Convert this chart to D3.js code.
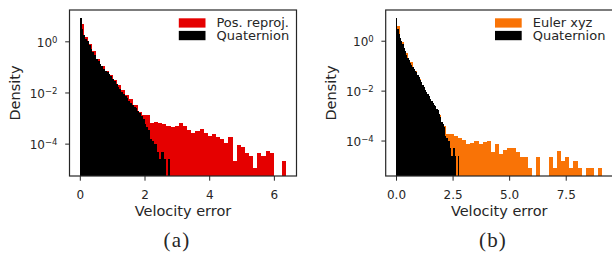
<!DOCTYPE html>
<html>
<head>
<meta charset="utf-8">
<script src="https://cdn.jsdelivr.net/npm/d3@7"></script>
<style>
  body { margin: 0; background: #fff; }
  text { font-family: "DejaVu Sans", sans-serif; fill: #262626; }
</style>
</head>
<body>
<svg id="chart" width="612" height="253"></svg>
<script>
// 50 bins per histogram, from 0 to the max of each sample
var nBins = 50;
var quatMax = 2.78, posMax = 6.38, eulerMax = 9.12;

// densities (0 = empty bin)
var quaternion = [8.5, 2.9, 1.8, 1.23, 1.0, 0.74, 0.51, 0.38, 0.28, 0.204,
  0.166, 0.132, 0.105, 0.085, 0.071, 0.062, 0.055, 0.043, 0.034, 0.0275,
  0.0224, 0.0166, 0.0138, 0.0105, 0.0091, 0.0076, 0.0062, 0.0047, 0.0039, 0.0031,
  0.00275, 0.0024, 0.0019, 0.0016, 0.00117, 0.00089, 0.00056, 0.00045, 0.00035, 0.000148,
  0.000123, 0.000098, 0.000098, 0.000049, 0.0000245, 0.000049, 0.000049, 0.0000245, 0, 0.0000245];

var posReproj = [4.9, 1.48, 0.76, 0.40, 0.195, 0.112, 0.072, 0.049, 0.032, 0.0204,
  0.0129, 0.0083, 0.0056, 0.0032, 0.00178, 0.00132, 0.00126, 0.00065, 0.00072, 0.00062,
  0.00056, 0.00048, 0.00043, 0.00051, 0.00066, 0.00047, 0.00035, 0.00027, 0.00032, 0.00039,
  0.00027, 0.00019, 0.000245, 0.000174, 0.000158, 0.00011, 0.000174, 0.0000214, 0.000085, 0.000075,
  0.0000427, 0.000032, 0.0000107, 0.0000427, 0.000032, 0.0000534, 0.0000427, 0, 0, 0.0000214];

var eulerXYZ = [3.9, 0.89, 0.32, 0.141, 0.063, 0.028, 0.0141, 0.0068, 0.0035, 0.0019,
  0.00105, 0.00039, 0.000186, 0.000186, 0.000155, 0.000129, 0.000107, 0.000074, 0.000081, 0.000098,
  0.000074, 0.000089, 0.000098, 0.0000355, 0.000074, 0.0000295, 0.0000427, 0.0000513, 0.0000513, 0.0000355,
  0.0000224, 0.0000224, 0.0000076, 0, 0.0000224, 0, 0, 0.0000224, 0.0000076, 0.000038,
  0.0000151, 0.0000224, 0.0000076, 0.0000151, 0.0000076, 0, 0.0000076, 0.0000076, 0, 0.0000076];

var xTicksA = [0, 2, 4, 6];
var xTicksB = [0, 2.5, 5, 7.5];
var yTicks = [1, 1e-2, 1e-4];
var yTickExp = ["0", "\u22122", "\u22124"];

var svg = d3.select("#chart");
var top_ = 10, bottom = 176;
var ink = "#262626";

var panels = [
  {left: 69.5, right: 296.5, name: "Pos. reproj.", vals: posReproj, max: posMax,
   color: "#e50000", ticks: xTicksA, fmt: d3.format("d"), caption: "(a)", capX: 177},
  {left: 385.7, right: 612.7, name: "Euler xyz", vals: eulerXYZ, max: eulerMax,
   color: "#f97306", ticks: xTicksB, fmt: d3.format(".1f"), caption: "(b)", capX: 493}
];

function bins(vals, max) {
  var w = max / nBins;
  return vals.map(function(v, i) { return {x0: i * w, x1: (i + 1) * w, v: v}; })
    .filter(function(d) { return d.v > 0; });
}

panels.forEach(function(p, k) {
  var x = d3.scaleLinear()
      .domain([-0.05 * p.max, 1.05 * p.max])
      .range([p.left, p.right]);

  // log y limits like matplotlib: 5% margin in log space
  var all = p.vals.concat(quaternion).filter(function(v) { return v > 0; });
  var lo = Math.log10(d3.min(all)), hi = Math.log10(d3.max(all));
  var m = 0.05 * (hi - lo);
  var y = d3.scaleLog()
      .domain([Math.pow(10, lo - m), Math.pow(10, hi + m)])
      .range([bottom, top_]);

  var g = svg.append("g");
  g.append("defs").append("clipPath")
      .attr("id", "clip" + k)
    .append("rect")
      .attr("x", p.left).attr("y", top_)
      .attr("width", p.right - p.left).attr("height", bottom - top_);

  var plot = g.append("g").attr("clip-path", "url(#clip" + k + ")");

  [[bins(p.vals, p.max), p.color], [bins(quaternion, quatMax), "#000"]].forEach(function(s) {
    plot.append("g")
        .attr("fill", s[1])
        .attr("shape-rendering", "crispEdges")
      .selectAll("rect")
      .data(s[0])
      .enter().append("rect")
        .attr("x", function(d) { return x(d.x0); })
        .attr("width", function(d) { return x(d.x1) - x(d.x0); })
        .attr("y", function(d) { return y(d.v); })
        .attr("height", function(d) { return bottom - y(d.v); });
  });

  // x axis
  var xa = g.append("g")
      .attr("transform", "translate(0," + bottom + ")")
      .call(d3.axisBottom(x).tickValues(p.ticks).tickSize(4.7).tickFormat(p.fmt));
  xa.select(".domain").remove();
  xa.selectAll("line").attr("stroke", ink).attr("stroke-width", 1);
  xa.selectAll("text")
      .attr("y", 23.3).attr("dy", null)
      .attr("font-size", 12).attr("font-family", "DejaVu Sans").attr("fill", ink);

  // y axis
  var ya = g.append("g")
      .attr("transform", "translate(" + p.left + ",0)")
      .call(d3.axisLeft(y).tickValues(yTicks).tickSize(4.3).tickFormat(""));
  ya.select(".domain").remove();
  ya.selectAll("line").attr("stroke", ink).attr("stroke-width", 1);
  ya.selectAll(".tick").each(function(d, i) {
    var t = d3.select(this).select("text")
        .attr("x", -12).attr("dy", null).attr("y", 5)
        .attr("text-anchor", "end")
        .attr("font-size", 12).attr("font-family", "DejaVu Sans").attr("fill", ink);
    t.append("tspan").text("10");
    t.append("tspan").attr("font-size", 8.5).attr("dy", -4.3).text(yTickExp[i]);
  });

  // frame
  g.append("rect")
      .attr("x", p.left).attr("y", top_)
      .attr("width", p.right - p.left).attr("height", bottom - top_)
      .attr("fill", "none").attr("stroke", ink).attr("stroke-width", 1.2);

  // labels
  g.append("text")
      .attr("x", (p.left + p.right) / 2).attr("y", 216)
      .attr("text-anchor", "middle").attr("font-size", 14.5)
      .text("Velocity error");
  g.append("text")
      .attr("transform", "translate(" + (p.left - 49.5) + "," + ((top_ + bottom) / 2) + ") rotate(-90)")
      .attr("text-anchor", "middle").attr("font-size", 14.5)
      .text("Density");
  g.append("text")
      .attr("x", p.capX).attr("y", 246.5)
      .attr("text-anchor", "middle")
      .style("font-family", "'Liberation Serif', serif")
      .attr("font-size", 21).attr("letter-spacing", 1.2)
      .text(p.caption);

  // legend, anchored to the upper right
  var items = [[p.name, p.color], ["Quaternion", "#000"]];
  var leg = g.append("g");
  var rows = leg.selectAll("g").data(items).enter().append("g")
      .attr("transform", function(d, i) { return "translate(0," + (27.3 + i * 12.6) + ")"; });
  rows.append("rect")
      .attr("x", 0).attr("y", -9).attr("width", 26.7).attr("height", 9.3)
      .attr("fill", function(d) { return d[1]; });
  rows.append("text")
      .attr("x", 37.7).attr("y", 0)
      .attr("font-size", 13)
      .text(function(d) { return d[0]; });
  var tw = 0;
  rows.selectAll("text").each(function() { tw = Math.max(tw, this.getComputedTextLength()); });
  leg.attr("transform", "translate(" + (p.right - 7.3 - tw - 37.7) + ",0)");
});
</script>
</body>
</html>
